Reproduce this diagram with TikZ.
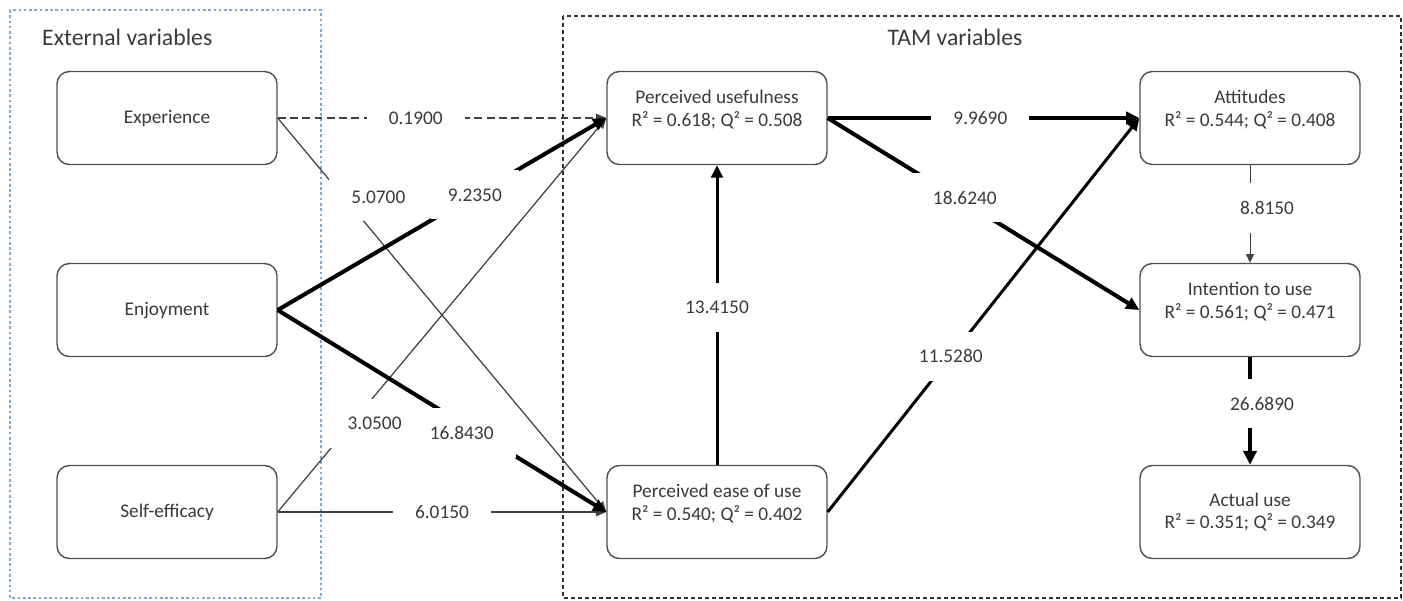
\documentclass[tikz,border=0pt]{standalone}
\usepackage{fontspec}
\setmainfont{Carlito}
\usepackage{tikz}
\usetikzlibrary{arrows.meta}
\definecolor{txtgray}{HTML}{3A3A3A}
\definecolor{boxgray}{HTML}{505050}
\definecolor{frameblue}{HTML}{7FA6D6}

\begin{document}
\begin{tikzpicture}[
    x=0.02cm, y=-0.02cm,
    var/.style={draw=boxgray, line width=0.8pt, fill=white, rounded corners=7pt,
        minimum width=4.4cm, minimum height=1.86cm, align=center,
        font=\fontsize{11}{13}\selectfont, text=txtgray},
    endo/.style={var, text depth=0.38cm},
    coef/.style={fill=white, inner xsep=0.44cm, inner ysep=0.36cm,
        font=\fontsize{11}{13}\selectfont, text=txtgray},
    head/.style={font=\fontsize{13.5}{16}\selectfont, text=txtgray},
    weak/.style={line width=0.7pt, draw=black!75, -{Triangle[length=6pt,width=5pt]}},
    medium/.style={line width=1.7pt, -{Triangle[length=7pt,width=6.5pt]}},
    strong/.style={line width=2.3pt, -{Triangle[length=7.5pt,width=7pt]}},
    heavy/.style={line width=2.8pt, -{Triangle[length=8pt,width=7.5pt]}}
]
\useasboundingbox (0,0) rectangle (1403,600);

% frames
\draw[frameblue, line width=0.6pt, dash pattern=on 1.5pt off 1.5pt] (10,10) rectangle (321,598);
\draw[black!80, line width=0.7pt, dash pattern=on 2.3pt off 1.7pt] (563,16) rectangle (1401,598);
\node[head, anchor=west] at (36,37) {External variables};
\node[head] at (955,37) {TAM variables};

% external variables
\node[var] (exp) at (167,118) {Experience};
\node[var] (enj) at (167,310) {Enjoyment};
\node[var] (se) at (167,512) {Self-efficacy};

% TAM variables
\node[endo] (pu) at (717,118) {Perceived usefulness\\R² = 0.618; Q² = 0.508};
\node[endo] (peou) at (717,512) {Perceived ease of use\\R² = 0.540; Q² = 0.402};
\node[endo] (att) at (1250,118) {Attitudes\\R² = 0.544; Q² = 0.408};
\node[endo] (int) at (1250,310) {Intention to use\\R² = 0.561; Q² = 0.471};
\node[var] (act) at (1250,512) {Actual use\\R² = 0.351; Q² = 0.349};

% weak paths
\draw[weak, dash pattern=on 4.5pt off 2.5pt] (exp.east) -- node[coef, pos=0.42] {0.1900} (pu.west);
\draw[weak] (exp.east) -- node[coef, pos=0.2, xshift=0.7cm] {5.0700} (peou.west);
\draw[weak] (se.east) -- node[coef, pos=0.225, xshift=0.46cm] {3.0500} (pu.west);
\draw[weak] (se.east) -- node[coef, pos=0.5] {6.0150} (peou.west);
\draw[weak, line width=0.55pt, -{Triangle[length=5pt,width=4.5pt]}] (att.south) -- node[coef, pos=0.44, xshift=0.34cm] {8.8150} (int.north);

% strong paths
\draw[strong] (enj.east) -- node[coef, pos=0.6, inner xsep=0.34cm] {9.2350} (pu.west);
\draw[strong] (enj.east) -- node[coef, pos=0.56, yshift=-0.2cm] {16.8430} (peou.west);
\draw[medium] (peou.north) -- node[coef, pos=0.525] {13.4150} (pu.south);
\draw[medium] (peou.east) -- node[coef, pos=0.395] {11.5280} (att.west);
\draw[strong] (pu.east) -- node[coef, pos=0.49] {9.9690} (att.west);
\draw[strong] (pu.east) -- node[coef, pos=0.44, yshift=0.1cm] {18.6240} (int.west);
\draw[heavy] (int.south) -- node[coef, pos=0.43, xshift=0.24cm] {26.6890} (act.north);

\end{tikzpicture}
\end{document}
